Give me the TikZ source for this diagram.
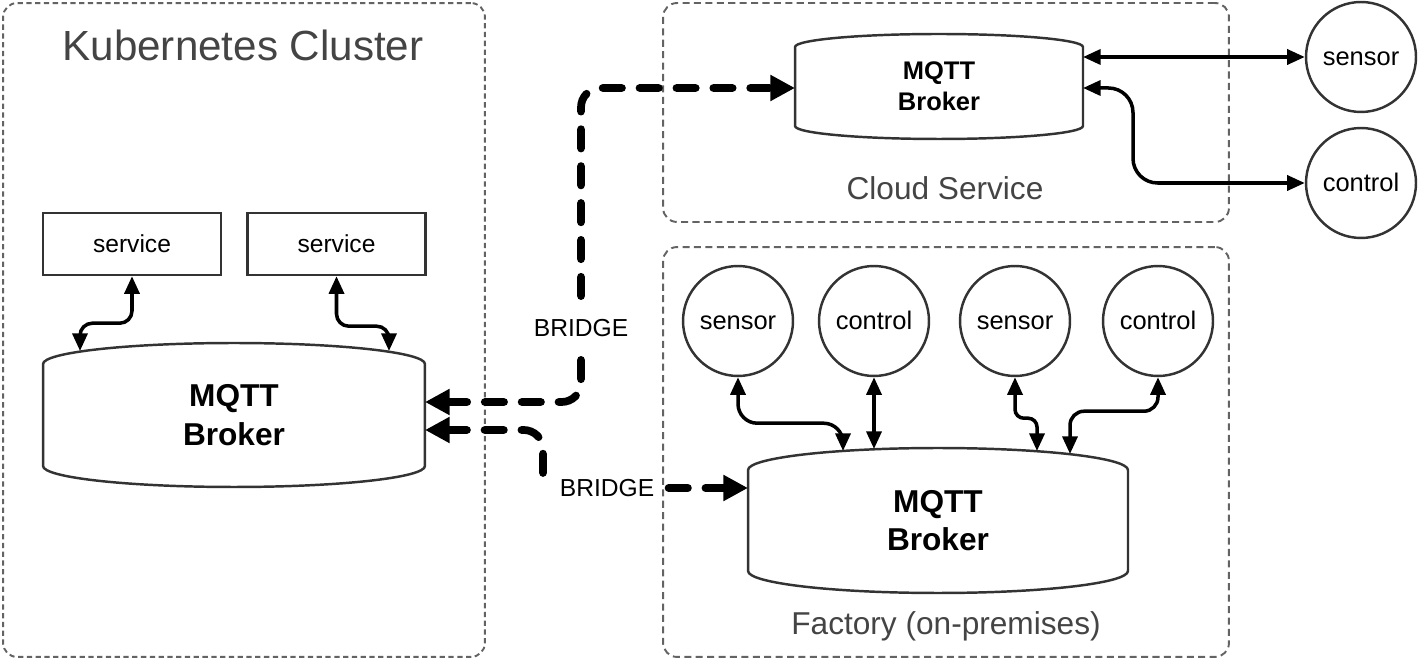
\documentclass[tikz,border=0pt]{standalone}
\usepackage{fontspec}
\setmainfont{Liberation Sans}
\usetikzlibrary{arrows.meta}
\definecolor{edgegray}{HTML}{333333}
\definecolor{zonegray}{HTML}{636363}
\definecolor{titlegray}{HTML}{444444}
\tikzset{
zone/.style={ % dashed boundary of each site
draw=zonegray,
line width=1.1pt,
dash pattern=on 4pt off 2.5pt,
rounded corners=8pt,
inner sep=0pt},
title/.style={ % site names
text=titlegray,
font=\fontsize{18}{22}\selectfont},
service/.style={
draw=edgegray,
line width=1.4pt,
minimum width=3.56cm,
minimum height=1.24cm,
font=\fontsize{14}{17}\selectfont},
device/.style={ % sensors and controls
circle,
draw=edgegray,
line width=1.4pt,
minimum size=2.2cm,
inner sep=0pt,
text height=11pt,
text depth=1pt,
font=\fontsize{14.5}{17}\selectfont},
broker/.style={ % text of a broker, outline drawn by \brokerhull
align=center,
inner sep=0pt,
outer sep=0pt,
font=\fontsize{18}{22}\selectfont\bfseries},
hull/.style={draw=edgegray, line width=1.4pt},
tag/.style={font=\fontsize{14}{16}\selectfont},
link/.style={ % plain two-way connection
<->,
>={Triangle[length=10pt,width=8.5pt]},
line width=2pt},
bridge/.style={ % bridged brokers
->,
>={Triangle[length=14pt,width=14pt]},
line width=4.4pt,
line cap=round,
dash pattern=on 11pt off 10pt}}
% #1 node, #2 half width, #3 height of the caps
\newcommand{\brokerhull}[3]{%
\draw[hull] ([yshift=-#3]#1.north west) arc[start angle=180, end angle=0, x radius=#2, y radius=#3]
  -- ([yshift=#3]#1.south east) arc[start angle=0, end angle=-180, x radius=#2, y radius=#3] -- cycle;}

\begin{document}
\begin{tikzpicture}[x=0.02cm, y=-0.02cm]
\useasboundingbox (0,0) rectangle (1419,661);
% sites
\node[zone, dash pattern=on 3pt off 2pt, minimum width=9.64cm, minimum height=13.08cm] (kube) at (244,330) {};
\node[zone, minimum width=11.32cm, minimum height=4.38cm] (cloud) at (946,112.5) {};
\node[zone, minimum width=11.32cm, minimum height=8.2cm] (factory) at (946,452) {};
\node[title, font=\fontsize{24}{28}\selectfont] (kubetitle) at (243,45) {Kubernetes Cluster};
\node[title] (cloudtitle) at (945,188) {Cloud Service};
\node[title, anchor=base] (factorytitle) at (946,634) {Factory (on-premises)};
% brokers
\node[broker, minimum width=7.64cm, minimum height=2.88cm] (kbroker) at (234,415) {MQTT\\Broker};
\brokerhull{kbroker}{3.82cm}{0.42cm}
\node[broker, font=\fontsize{14.5}{17.7}\selectfont\bfseries, minimum width=5.76cm, minimum height=2.1cm] (cbroker) at (939,86.5) {MQTT\\Broker};
\brokerhull{cbroker}{2.88cm}{0.26cm}
\node[broker, minimum width=7.6cm, minimum height=2.9cm] (fbroker) at (938,520.5) {MQTT\\Broker};
\brokerhull{fbroker}{3.8cm}{0.44cm}
% services and devices
\node[service] (svc1) at (132,244) {service};
\node[service] (svc2) at (336.5,244) {service};
\node[device] (csensor) at (1361,57) {sensor};
\node[device] (ccontrol) at (1361,183) {control};
\node[device] (fsensor1) at (738,321) {sensor};
\node[device] (fcontrol1) at (874,321) {control};
\node[device] (fsensor2) at (1015,321) {sensor};
\node[device] (fcontrol2) at (1158,321) {control};
% points on the broker outlines
\coordinate (kb1) at (80,351);
\coordinate (kb2) at (389,351);
\coordinate (kb3) at (425,402);
\coordinate (kb4) at (425,430);
\coordinate (cb1) at (1083,57);
\coordinate (cb2) at (1083,88);
\coordinate (cb3) at (795,88);
\coordinate (fb1) at (843,451);
\coordinate (fb2) at (874,449);
\coordinate (fb3) at (1037,451);
\coordinate (fb4) at (1070,454);
\coordinate (fb5) at (748,488);
\coordinate (bend) at (543,473);
% links
\draw[link, rounded corners=7pt] (svc1.south) -- ++(0,47) -| (kb1);
\draw[link, rounded corners=7pt] (svc2.south) -- ++(0,50) -| (kb2);
\draw[link] (cb1) -- (csensor.west);
\draw[link, rounded corners=14pt] (cb2) -- ++(50,0) |- (ccontrol.west);
\draw[link, rounded corners=11pt] (fsensor1.south) -- ++(0,46) -| (fb1);
\draw[link] (fcontrol1.south) -- (fb2);
\draw[link, rounded corners=5pt] (fsensor2.south) -- ++(0,41) -| (fb3);
\draw[link, rounded corners=8pt] (fcontrol2.south) -- ++(0,34) -| (fb4);
% bridges
\node[tag, inner ysep=13pt] (bridgeA) at (581,328) {BRIDGE};
\node[tag, inner xsep=8pt] (bridgeB) at (607,488) {BRIDGE};
\draw[bridge, rounded corners=11pt] (bridgeA) |- (cb3);
\draw[bridge, rounded corners=11pt] (bridgeA) |- (kb3);
\draw[bridge, rounded corners=11pt] (bend) |- (kb4);
\draw[bridge] (bridgeB) -- (fb5);
\end{tikzpicture}
\end{document}
